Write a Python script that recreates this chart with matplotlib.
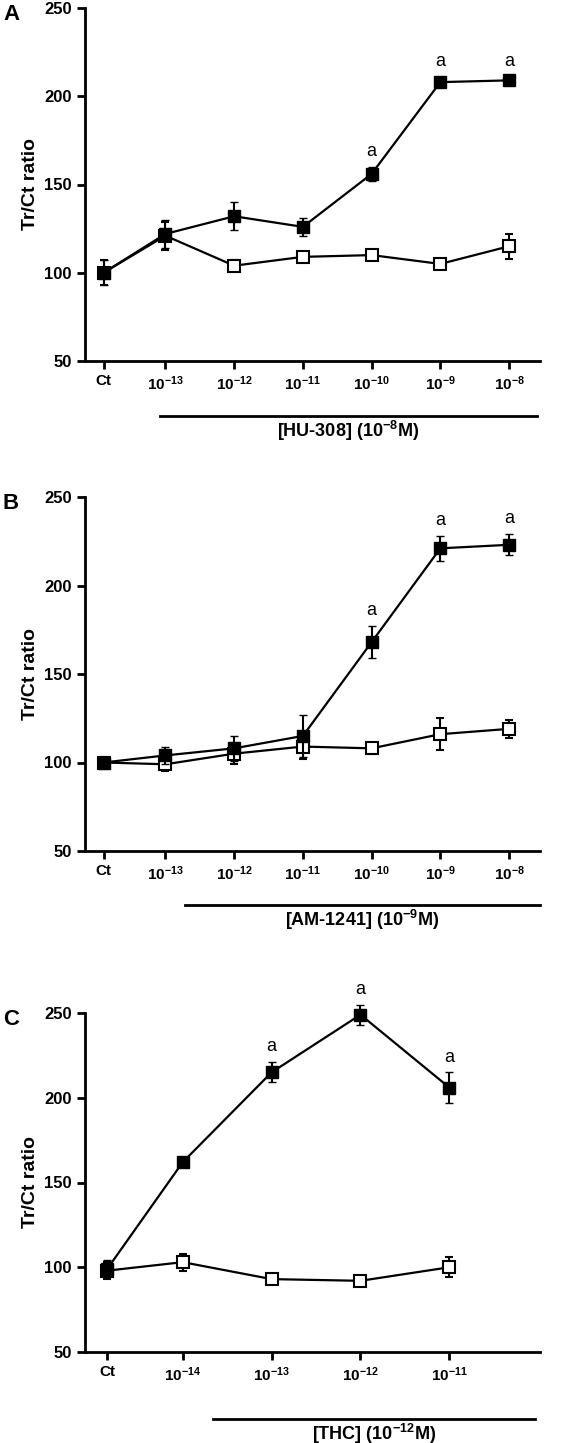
import matplotlib
matplotlib.use("Agg")
import matplotlib.pyplot as plt
from matplotlib.lines import Line2D

plt.rcParams['font.family'] = ['Liberation Sans', 'DejaVu Sans']
plt.rcParams['mathtext.fontset'] = 'custom'
plt.rcParams['mathtext.bf'] = 'Liberation Sans:bold'
plt.rcParams['mathtext.rm'] = 'Liberation Sans:bold'

labA = ['Ct', '$\\mathbf{10^{-13}}$', '$\\mathbf{10^{-12}}$', '$\\mathbf{10^{-11}}$', '$\\mathbf{10^{-10}}$', '$\\mathbf{10^{-9}}$', '$\\mathbf{10^{-8}}$']
A_fill = [100, 122, 132, 126, 156, 208, 209]
A_fill_err = [7, 8, 8, 5, 4, 3, 2]
A_open = [100, 121, 104, 109, 110, 105, 115]
A_open_err = [7, 8, 3, 3, 3, 3, 7]
A_sig = [0, 0, 0, 0, 1, 1, 1]

B_fill = [100, 104, 108, 115, 168, 221, 223]
B_fill_err = [3, 5, 7, 12, 9, 7, 6]
B_open = [100, 99, 105, 109, 108, 116, 119]
B_open_err = [3, 4, 6, 7, 3, 9, 5]
B_sig = [0, 0, 0, 0, 1, 1, 1]

labC = ['Ct', '$\\mathbf{10^{-14}}$', '$\\mathbf{10^{-13}}$', '$\\mathbf{10^{-12}}$', '$\\mathbf{10^{-11}}$']
C_fill = [99, 162, 215, 249, 206]
C_fill_err = [5, 3, 6, 6, 9]
C_open = [98, 103, 93, 92, 100]
C_open_err = [5, 5, 3, 3, 6]
C_sig = [0, 0, 1, 1, 1]
xA = [0, 0.9, 1.9, 2.9, 3.9, 4.9, 5.9]
xC = [0, 0.85, 1.85, 2.85, 3.85]

W, H = 567, 1443
fig = plt.figure(figsize=(W/100, H/100), dpi=100)

def panel(rect, x, labels, fill, ferr, opn, oerr, sig, xlim, letter, xlabel, line_px):
    ax = fig.add_axes(rect)
    ax.errorbar(x, opn, yerr=oerr, color='black', lw=1.6, marker='s', ms=9,
                mfc='white', mec='black', mew=1.5, capsize=3, elinewidth=1.5, zorder=2, clip_on=False)
    ax.errorbar(x, fill, yerr=ferr, color='black', lw=1.6, marker='s', ms=9,
                mfc='black', mec='black', capsize=3, elinewidth=1.5, zorder=3, clip_on=False)
    for xi, v, e, s in zip(x, fill, ferr, sig):
        if s:
            ax.text(xi, v + e + 4, 'a', ha='center', va='bottom', fontsize=13, clip_on=False)
    ax.set_xlim(*xlim)
    ax.set_ylim(50, 250)
    ax.set_yticks([50, 100, 150, 200, 250])
    ax.set_xticks(x)
    ax.set_xticklabels(labels)
    for s in ['top', 'right']:
        ax.spines[s].set_visible(False)
    for s in ['left', 'bottom']:
        ax.spines[s].set_linewidth(2)
    ax.tick_params(width=2, length=6, labelsize=11)
    ax.tick_params(axis='y', labelsize=12)
    for t in ax.get_xticklabels() + ax.get_yticklabels():
        t.set_fontweight('bold')
    ax.set_ylabel('Tr/Ct ratio', fontsize=14, fontweight='bold')
    top = rect[1] + rect[3]
    fig.text(3/W, top + 4/H, letter, fontsize=16, fontweight='bold', va='top')
    x0, x1, y = line_px
    fig.add_artist(Line2D([x0/W, x1/W], [1-y/H, 1-y/H], color='black', lw=2))
    fig.text((x0+x1)/2/W, 1-(y+15)/H, xlabel, ha='center', va='center', fontsize=13, fontweight='bold')
    return ax

panel([85/W, 1-361/H, 455/W, 353/H], xA, labA, A_fill, A_fill_err, A_open, A_open_err, A_sig,
      (-0.27, 6.35), 'A', '[HU-308] (10$^{\\mathbf{-8}}$M)', (160, 537, 416))
panel([85/W, 1-851/H, 455/W, 354/H], xA, labA, B_fill, B_fill_err, B_open, B_open_err, B_sig,
      (-0.27, 6.35), 'B', '[AM-1241] (10$^{\\mathbf{-9}}$M)', (185, 540, 905))
panel([85/W, 1-1352/H, 455/W, 339/H], xC, labC, C_fill, C_fill_err, C_open, C_open_err, C_sig,
      (-0.25, 4.87), 'C', '[THC] (10$^{\\mathbf{-12}}$M)', (213, 535, 1419))

fig.savefig('out.png', dpi=100)
